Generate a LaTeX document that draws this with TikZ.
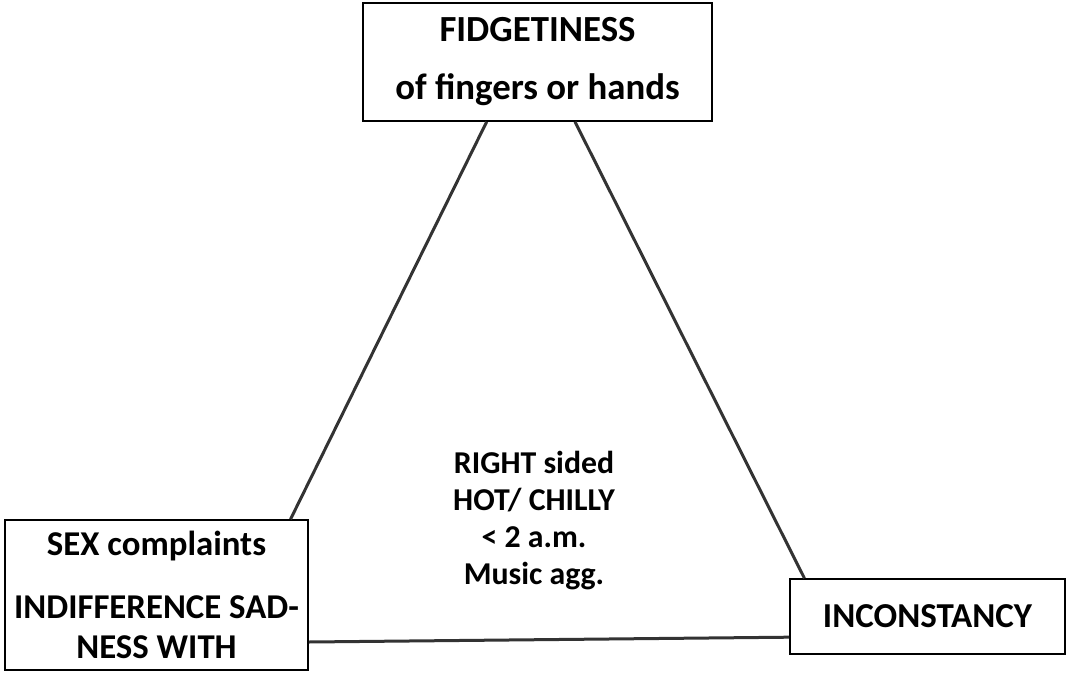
\documentclass[tikz,border=0pt]{standalone}
\usepackage{fontspec}
\setmainfont{Carlito}
\usetikzlibrary{calc}
\begin{document}
\begin{tikzpicture}[x=1pt,y=-1pt,
  box/.style={draw=black,line width=1.6pt,rectangle,inner sep=0pt,align=center,font=\bfseries},
  conn/.style={draw=black!80,line width=3pt}]
\useasboundingbox (0,0) rectangle (1068,673);
\node[box,minimum width=349pt,minimum height=118pt,font=\bfseries\fontsize{36.8}{57}\selectfont] (top) at (537.5,62) {FIDGETINESS\\[1pt]of fingers or hands};
\node[box,minimum width=303pt,minimum height=150pt,font=\bfseries\fontsize{34.8}{40}\selectfont] (sex) at (156.5,595) {SEX complaints\\[23pt]INDIFFERENCE SAD-\\NESS WITH};
\node[box,minimum width=275pt,minimum height=75pt,font=\bfseries\fontsize{35}{40}\selectfont] (inc) at (927.5,616.5) {INCONSTANCY};
\node[align=center,inner sep=0pt,font=\bfseries\fontsize{31.8}{37}\selectfont] (mid) at (534,521) {RIGHT sided\\HOT/ CHILLY\\< 2 a.m.\\Music agg.};
\draw[conn] ($(top.south west)!0.355!(top.south east)$) -- ($(sex.north west)!0.94!(sex.north east)$);
\draw[conn] ($(top.south west)!0.607!(top.south east)$) -- ($(inc.north west)!0.055!(inc.north east)$);
\draw[conn] ($(sex.north east)!0.81!(sex.south east)$) -- ($(inc.north west)!0.77!(inc.south west)$);
\end{tikzpicture}
\end{document}
